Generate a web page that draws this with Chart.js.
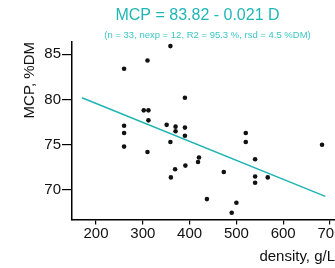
<!DOCTYPE html>
<html>
<head>
<meta charset="utf-8">
<script src="https://cdn.jsdelivr.net/npm/chart.js@4"></script>
<style>
  body { margin: 0; background: #fff; }
</style>
</head>
<body>
<canvas id="mcpChart" width="335" height="268"></canvas>
<script>
// density (g/L) and MCP (%DM) of the samples
const density = [359, 310, 260, 390, 302, 312, 312, 260, 260, 260, 310, 351, 370, 370, 390, 390, 359,
                 369, 360, 391, 420, 418, 520, 520, 683, 473, 540, 540, 540, 567, 437, 500, 490];
const mcp = [85.9, 84.3, 83.4, 80.2, 78.8, 78.8, 77.7, 77.1, 76.3, 74.8, 74.2, 77.2, 77.0, 76.5, 76.9, 76.0, 75.3,
             72.3, 71.4, 72.7, 73.6, 73.1, 76.3, 75.3, 75.0, 72.0, 73.4, 71.5, 70.8, 71.4, 69.0, 68.6, 67.5];
// fitted line ends
const fitX = [170, 690];
const fitY = [80.2, 69.3];
const xTicks = [200, 300, 400, 500, 600, 700];
const yTicks = [70, 75, 80, 85];
const titleText = 'MCP = 83.82 - 0.021 D';
const subText = '(n = 33, nexp = 12, R2 = 95.3 %, rsd = 4.5 %DM)';

const fam = '"Liberation Sans", Arial, sans-serif';

// title + subtitle centred over the plot area
const headerPlugin = {
    id: 'header',
    afterDraw(chart) {
        const ctx = chart.ctx;
        const area = chart.chartArea;
        const cx = (area.left + area.right) / 2;
        ctx.save();
        ctx.textAlign = 'center';
        ctx.textBaseline = 'alphabetic';
        ctx.fillStyle = '#20b6b6';
        ctx.font = '16px ' + fam;
        ctx.fillText(titleText, cx - 6, 20);
        ctx.fillStyle = '#3cc6c6';
        ctx.font = '9.5px ' + fam;
        ctx.fillText(subText, cx + 4, 38);
        ctx.restore();
    }
};

const ctx = document.getElementById('mcpChart').getContext('2d');
const mcpChart = new Chart(ctx, {
    type: 'scatter',
    data: {
        datasets: [
            {
                data: density.map((d, i) => ({ x: d, y: mcp[i] })),
                pointRadius: 2.3,
                backgroundColor: '#111',
                borderWidth: 0
            },
            {
                data: fitX.map((d, i) => ({ x: d, y: fitY[i] })),
                showLine: true,
                borderColor: '#1fb3b3',
                borderWidth: 1.5,
                pointRadius: 0
            }
        ]
    },
    options: {
        responsive: false,
        animation: false,
        layout: { autoPadding: false, padding: { top: 42, left: 0, right: 0, bottom: 0 } },
        plugins: {
            legend: { display: false },
            tooltip: { enabled: false }
        },
        scales: {
            x: {
                type: 'linear',
                min: 148.7,
                max: 710.7,
                afterBuildTicks: s => { s.ticks = xTicks.map(v => ({ value: v })); },
                afterFit: s => { s.height = 48.5; s.paddingLeft = 0; s.paddingRight = 0; },
                border: { color: '#000', width: 1.5 },
                grid: { drawOnChartArea: false, color: '#000', lineWidth: 1.2, tickLength: 5 },
                ticks: { color: '#111', font: { size: 15, family: fam }, padding: 0, maxRotation: 0, autoSkip: false },
                title: {
                    display: true, text: 'density, g/L', align: 'end', color: '#111',
                    font: { size: 15, family: fam }, padding: { top: 0, bottom: 2 }
                }
            },
            y: {
                min: 66.75,
                max: 86.35,
                afterBuildTicks: s => { s.ticks = yTicks.map(v => ({ value: v })); },
                afterFit: s => { s.width = 72; },
                border: { color: '#000', width: 1.5 },
                grid: { drawOnChartArea: false, color: '#000', lineWidth: 1.2, tickLength: 10 },
                ticks: { color: '#111', font: { size: 15, family: fam }, padding: 1 },
                title: {
                    display: true, text: 'MCP, %DM', align: 'end', color: '#111',
                    font: { size: 15, family: fam }, padding: { top: 21, bottom: 0 }
                }
            }
        }
    },
    plugins: [headerPlugin]
});
</script>
</body>
</html>
